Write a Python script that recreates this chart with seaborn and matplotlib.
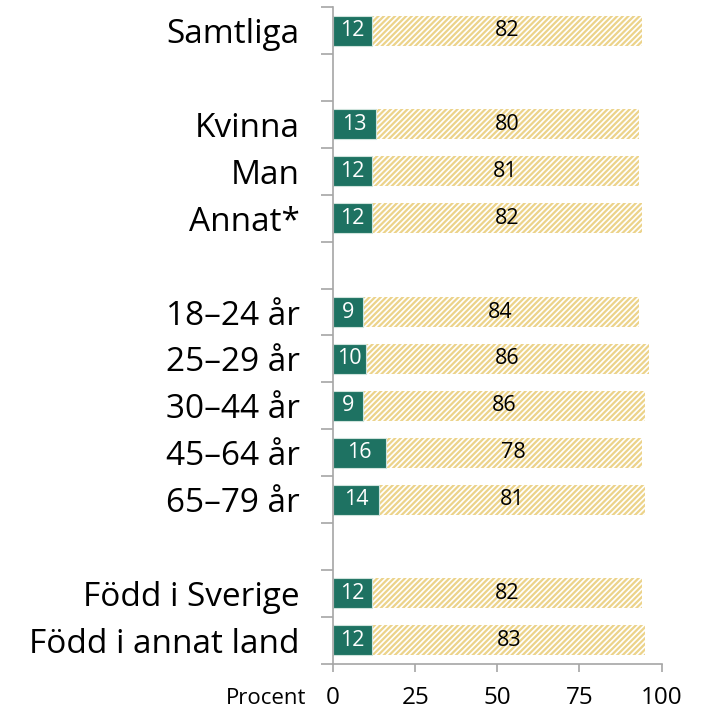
import matplotlib
matplotlib.use("Agg")
import matplotlib.pyplot as plt
import seaborn as sns
import pandas as pd
import numpy as np

categories = ["Samtliga", "Kvinna", "Man", "Annat*",
              "18–24 år", "25–29 år", "30–44 år", "45–64 år", "65–79 år",
              "Född i Sverige", "Född i annat land"]
share_yes = [12, 13, 12, 12, 9, 10, 9, 16, 14, 12, 12]
share_no = [82, 80, 81, 82, 84, 86, 86, 78, 81, 82, 83]

# Row order with empty spacer rows between the groups
order = ["Samtliga", " ",
         "Kvinna", "Man", "Annat*", "  ",
         "18–24 år", "25–29 år", "30–44 år", "45–64 år", "65–79 år", "   ",
         "Född i Sverige", "Född i annat land"]

df = pd.DataFrame({"grupp": categories, "ja": share_yes, "nej": share_no})
df["total"] = df["ja"] + df["nej"]

sns.set_theme(style="white")
plt.rcParams["font.family"] = ["Open Sans", "DejaVu Sans"]
plt.rcParams["text.color"] = "black"
plt.rcParams["xtick.color"] = "black"
plt.rcParams["ytick.color"] = "black"
plt.rcParams["hatch.linewidth"] = 1.6

green = "#1e7262"
yellow = "#ecd38a"
grey = "#a6a6a6"

fig = plt.figure(figsize=(7.13, 7.10), dpi=100)
ax = fig.add_axes([0.467, 0.065, 0.461, 0.925])

sns.barplot(data=df, y="grupp", x="total", order=order, orient="h",
            color="white", width=0.64, ax=ax, saturation=1, errorbar=None)
for p in ax.patches:
    p.set_facecolor("white")
    p.set_edgecolor(yellow)
    p.set_hatch("//////")
    p.set_linewidth(0)
n_hatched = len(ax.patches)

sns.barplot(data=df, y="grupp", x="ja", order=order, orient="h",
            color=green, width=0.64, ax=ax, saturation=1, errorbar=None)
for p in ax.patches[n_hatched:]:
    p.set_facecolor(green)
    p.set_edgecolor("#cfe3dc")
    p.set_linewidth(0.8)

pos = {name: i for i, name in enumerate(order)}
for _, r in df.iterrows():
    y = pos[r["grupp"]]
    ax.text(r["ja"] / 2, y, f"{r['ja']}", ha="center", va="center",
            color="white", fontsize=15.5)
    ax.text(r["ja"] + r["nej"] / 2, y, f"{r['nej']}", ha="center", va="center",
            color="black", fontsize=15.5)

ax.set_xlim(0, 100)
ax.set_ylim(len(order) - 0.5, -0.5)

# Category names at row centres, tick marks on row boundaries
ax.set_yticks(np.arange(len(order)), labels=order, minor=True)
ax.set_yticks(np.arange(len(order) + 1) - 0.5, labels=[])
ax.tick_params(axis="y", which="minor", length=0, labelsize=24, pad=24, labelcolor="black")
ax.tick_params(axis="y", which="major", length=8.5, width=1.2, color=grey, left=True)

ax.set_xticks([0, 25, 50, 75, 100])
ax.tick_params(axis="x", length=6, width=1.2, color=grey, labelsize=17.5, pad=10,
               bottom=True, labelcolor="black")
ax.set_xlabel("")
ax.set_ylabel("")
ax.annotate("Procent", xy=(-0.08, 0), xycoords="axes fraction",
            xytext=(0, -17.5), textcoords="offset points",
            ha="right", va="top", fontsize=16)

for side in ["top", "right"]:
    ax.spines[side].set_visible(False)
for side in ["left", "bottom"]:
    ax.spines[side].set_color(grey)
    ax.spines[side].set_linewidth(1.2)

fig.savefig("out.png", dpi=100)
